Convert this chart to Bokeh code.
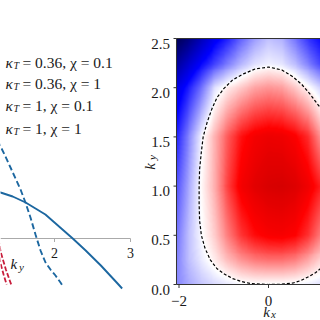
import numpy as np
from bokeh.plotting import figure
from bokeh.layouts import row
from bokeh.models import Range1d, Label, LinearColorMapper
from bokeh.embed import file_html
from bokeh.resources import INLINE

# ---------------- left panel data ----------------
solid_blue_x = [1.22, 1.29, 1.45, 1.62, 1.75, 1.88, 2.0, 2.12, 2.24, 2.41, 2.61, 2.83, 2.89]
solid_blue_y = [0.48, 0.46, 0.42, 0.36, 0.30, 0.24, 0.16, 0.08, 0.0, -0.12, -0.27, -0.45, -0.50]
dashed_blue_x = [1.25, 1.29, 1.355, 1.421, 1.487, 1.553, 1.618, 1.684, 1.75, 1.816, 1.882,
                 1.947, 2.013, 2.079, 2.105]
dashed_blue_y = [0.98, 0.92, 0.82, 0.71, 0.60, 0.49, 0.36, 0.21, 0.04, -0.12, -0.24,
                 -0.31, -0.37, -0.44, -0.47]
red_solid_x = [1.22, 1.29, 1.36, 1.43]
red_solid_y = [0.20, -0.13, -0.31, -0.46]
red_dashed_x = [1.22, 1.29, 1.33, 1.37]
red_dashed_y = [0.02, -0.25, -0.36, -0.46]
left_xticks = [2, 3]
legend_kappa = ["0.36", "0.36", "1", "1"]
legend_chi = ["0.1", "1", "0.1", "1"]

# ---------------- right panel data ----------------
kx_lim = [-2.056, 1.162]
ky_lim = [0.0, 2.5]
kx_nodes = [-2.1, -1.8, -1.5, -1.2, -0.9, -0.6, -0.3, 0.0, 0.3, 0.6, 0.9, 1.2]
ky_nodes = [0.0, 0.25, 0.5, 1.0, 1.5, 2.0, 2.25, 2.5]
field_rows = [
    [-0.25, -0.17, -0.11, -0.07, -0.04, -0.01, 0.00, 0.00, 0.00, -0.01, -0.03, -0.06],
    [-0.27, -0.13, -0.04, 0.04, 0.14, 0.22, 0.27, 0.29, 0.29, 0.26, 0.18, 0.08],
    [-0.30, -0.13, -0.01, 0.10, 0.26, 0.40, 0.48, 0.52, 0.53, 0.50, 0.40, 0.24],
    [-0.37, -0.18, 0.01, 0.16, 0.38, 0.54, 0.61, 0.65, 0.66, 0.63, 0.55, 0.43],
    [-0.47, -0.25, -0.02, 0.15, 0.33, 0.47, 0.54, 0.57, 0.56, 0.51, 0.41, 0.19],
    [-0.60, -0.45, -0.28, -0.06, 0.04, 0.11, 0.18, 0.21, 0.19, 0.11, 0.01, -0.10],
    [-0.80, -0.64, -0.49, -0.37, -0.25, -0.14, -0.06, -0.03, -0.05, -0.13, -0.25, -0.38],
    [-0.99, -0.86, -0.69, -0.53, -0.43, -0.30, -0.19, -0.12, -0.15, -0.27, -0.40, -0.49],
]
contour_kx = [1.17, 1.05, 0.92, 0.72, 0.55, 0.3, 0.0, -0.4, -0.6, -0.8, -1.0, -1.15, -1.3,
              -1.42, -1.5, -1.54, -1.55, -1.55, -1.54, -1.5, -1.46, -1.37, -1.26, -1.15,
              -1.0, -0.8, -0.56, -0.3, 0.0, 0.3, 0.55, 0.75, 0.92, 1.05, 1.17]
contour_ky = [0.165, 0.12, 0.085, 0.04, 0.015, 0.003, 0.0, 0.01, 0.03, 0.06, 0.11, 0.16, 0.25,
              0.37, 0.5, 0.65, 0.82, 1.0, 1.17, 1.35, 1.5, 1.65, 1.79, 1.9,
              1.99, 2.08, 2.14, 2.19, 2.21, 2.18, 2.11, 2.03, 1.94, 1.86, 1.79]
kx_ticks = [-2, 0]
ky_ticks = [0.0, 0.5, 1.0, 1.5, 2.0, 2.5]

SERIF = "Liberation Serif"
TXT = "#1a1a1a"
SPINE = "#333333"
BLUE = "#1c67a0"
RED = "#c81e3c"

# pixel -> data helpers (placement only)
def p1x(px): return 2 + (px - 54) / 76.0
def p1y(py): return (238 - py) / 100.0
def p2x(px): return (px - 268) / 44.75
def p2y(py): return (284 - py) / 98.4

def lab(p, x, y, text, size="15px", italic=False, align="left", angle=0.0):
    p.add_layout(Label(x=x, y=y, text=text, text_font=SERIF,
                       text_font_style="italic" if italic else "normal",
                       text_font_size=size, text_color=TXT, text_align=align,
                       text_baseline="alphabetic", angle=angle))

common = dict(toolbar_location=None, output_backend="svg", title=None,
              x_axis_type=None, y_axis_type=None, min_border=0,
              min_border_left=0, min_border_right=0, min_border_top=0, min_border_bottom=0,
              outline_line_color=None, background_fill_color="white",
              border_fill_color="white")

# ---------------- left panel ----------------
p1 = figure(width=138, height=320, x_range=Range1d(p1x(0), p1x(138)),
            y_range=Range1d(p1y(320), p1y(0)), **common)
p1.grid.visible = False

p1.segment(x0=[p1x(0)], y0=[0], x1=[left_xticks[-1]], y1=[0], line_color="#aaaaaa", line_width=1)
p1.segment(x0=left_xticks, y0=[0] * len(left_xticks), x1=left_xticks,
           y1=[-0.035] * len(left_xticks), line_color="#aaaaaa", line_width=1)
for t in left_xticks:
    lab(p1, t, p1y(252.5), str(t), size="14px", align="center")

p1.line(solid_blue_x, solid_blue_y, line_color=BLUE, line_width=1.9)
p1.line(dashed_blue_x, dashed_blue_y, line_color=BLUE, line_width=1.9, line_dash="6 3")
p1.line(red_solid_x, red_solid_y, line_color=RED, line_width=1.8, line_dash="5 2")
p1.line(red_dashed_x, red_dashed_y, line_color=RED, line_width=1.8, line_dash="5 2")

# x label k_y
lab(p1, p1x(10), p1y(263), "k", italic=True)
lab(p1, p1x(18.5), p1y(266), "y", size="11px", italic=True)

# legend texts
baselines = [62, 83, 105, 127.5]
for b, kt, ch in zip(baselines, legend_kappa, legend_chi):
    lab(p1, p1x(5), p1y(b), "κ", size="15.5px", italic=True)
    lab(p1, p1x(13), p1y(b + 3), "T", size="10px", italic=True)
    lab(p1, p1x(22), p1y(b), "= " + kt + ", χ = " + ch, size="15.5px")

# ---------------- right panel ----------------
ts = np.array([0.0, 0.25, 0.5, 0.75, 1.0])
rr = [0.0, 0.0, 1.0, 1.0, 0.5]
gg = [0.0, 0.0, 1.0, 0.0, 0.0]
bb = [0.3, 1.0, 1.0, 0.0, 0.0]
tt = np.linspace(0, 1, 256)
palette = ["#%02x%02x%02x" % (int(round(255 * np.interp(t, ts, rr))),
                              int(round(255 * np.interp(t, ts, gg))),
                              int(round(255 * np.interp(t, ts, bb)))) for t in tt]
mapper = LinearColorMapper(palette=palette, low=-1, high=1)

fx = np.linspace(kx_lim[0], kx_lim[1], 300)
fy = np.linspace(ky_lim[0], ky_lim[1], 250)
tmp = np.array([np.interp(fx, kx_nodes, r) for r in field_rows])
img = np.array([np.interp(fy, ky_nodes, tmp[:, j]) for j in range(len(fx))]).T

p2 = figure(width=182, height=320, x_range=Range1d(p2x(138), p2x(320)),
            y_range=Range1d(p2y(320), p2y(0)), **common)
p2.grid.visible = False
p2.image(image=[img], x=kx_lim[0], y=ky_lim[0], dw=kx_lim[1] - kx_lim[0],
         dh=ky_lim[1] - ky_lim[0], color_mapper=mapper)
p2.line(contour_kx, contour_ky, line_color="black", line_width=1.2, line_dash="3 2")

# spines (left, bottom, top)
p2.segment(x0=[kx_lim[0], kx_lim[0], kx_lim[0]], y0=[ky_lim[0], ky_lim[0], ky_lim[1]],
           x1=[kx_lim[0], kx_lim[1], kx_lim[1]], y1=[ky_lim[1], ky_lim[0], ky_lim[1]],
           line_color=SPINE, line_width=1)
# ticks
p2.segment(x0=[kx_lim[0]] * len(ky_ticks), y0=ky_ticks, x1=[p2x(173)] * len(ky_ticks),
           y1=ky_ticks, line_color=SPINE, line_width=1)
p2.segment(x0=kx_ticks, y0=[ky_lim[0]] * len(kx_ticks), x1=kx_ticks,
           y1=[p2y(287.5)] * len(kx_ticks), line_color=SPINE, line_width=1)
for t in ky_ticks:
    lab(p2, p2x(169.5), t - 5 / 98.4, "%.1f" % t, size="15px", align="right")
for t in kx_ticks:
    lab(p2, t, p2y(300), str(t).replace("-", "−"), size="15px", align="center")

# axis labels k_x, k_y
lab(p2, p2x(266), p2y(311.5), "k", italic=True, align="center")
lab(p2, p2x(273), p2y(313.5), "x", size="11px", italic=True, align="center")
lab(p2, p2x(149), p2y(166), "k", italic=True, align="center", angle=np.pi / 2)
lab(p2, p2x(151.5), p2y(157), "y", size="11px", italic=True, align="center", angle=np.pi / 2)

layout = row(p1, p2)
open("out.html", "w").write(file_html(layout, INLINE))
